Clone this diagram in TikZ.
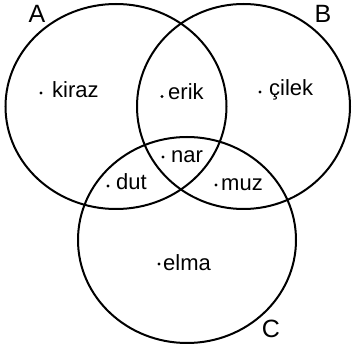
\documentclass[tikz,border=0pt]{standalone}
\usepackage{fontspec}
\setmainfont{Liberation Sans}
\usetikzlibrary{shapes.geometric}

\tikzset{
  setring/.style={draw, ellipse, line width=2pt, inner sep=0pt},
  setname/.style={font=\fontsize{25}{28}\selectfont, inner sep=0pt},
  member/.style={font=\fontsize{22}{25}\selectfont, anchor=base west, inner sep=0pt},
  dotmark/.style={fill, circle, inner sep=0pt, minimum size=3.2pt}
}

\begin{document}
\begin{tikzpicture}[x=1pt,y=-1pt]
\useasboundingbox (0,0) rectangle (354,347);
% the three sets
\node[setring, minimum width=221pt, minimum height=205pt] (setA) at (116,106.5) {};
\node[setring, minimum width=213pt, minimum height=205pt] (setB) at (243.5,106.5) {};
\node[setring, minimum width=218pt, minimum height=206pt] (setC) at (187,240) {};
% set names
\node[setname] (nameA) at (37,14) {A};
\node[setname] (nameB) at (323,14) {B};
\node[setname] (nameC) at (271,329) {C};
% members
\node[dotmark] (dkiraz) at (41,93) {};
\node[member] (kiraz) at (52,97.7) {kiraz};
\node[dotmark] (derik) at (162,96.5) {};
\node[member] (erik) at (168,100) {erik};
\node[dotmark] (dcilek) at (260,92) {};
\node[member] (cilek) at (269,96) {çilek};
\node[dotmark] (dnar) at (163,157) {};
\node[member] (nar) at (171,162.5) {nar};
\node[dotmark] (ddut) at (108,186) {};
\node[member] (dut) at (116,190) {dut};
\node[dotmark] (dmuz) at (216,185) {};
\node[member] (muz) at (221,190.5) {muz};
\node[dotmark] (delma) at (159,264) {};
\node[member] (elma) at (163,270.5) {elma};
\end{tikzpicture}
\end{document}
